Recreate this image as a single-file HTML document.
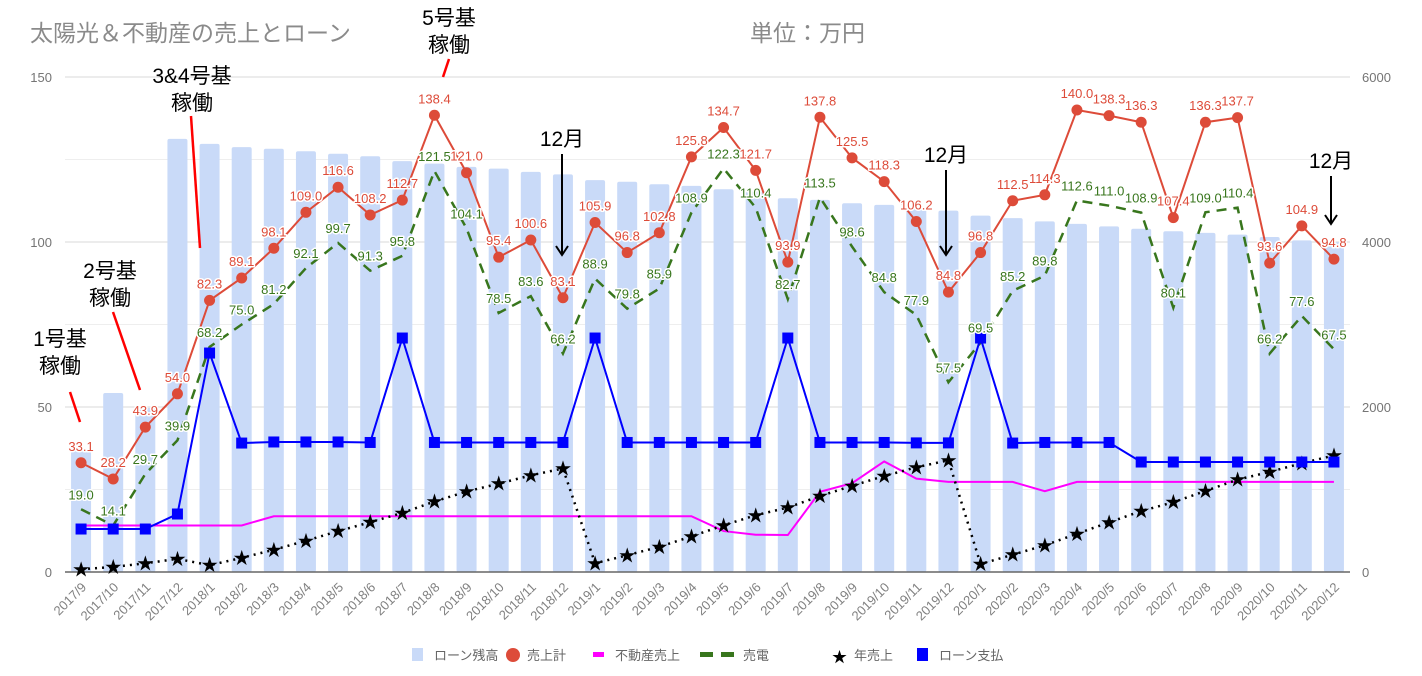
<!DOCTYPE html>
<html><head><meta charset="utf-8">
<style>
body{margin:0;background:#fff;}
svg{display:block;font-family:"Liberation Sans","Noto Sans CJK JP",sans-serif;}
.lbl{paint-order:stroke;stroke:#fff;stroke-width:3px;stroke-linejoin:round;font-size:13px;text-anchor:middle;}
</style></head><body>
<svg id="c" width="1422" height="676">
<text x="30" y="41" font-size="23" fill="#8a8a8a">太陽光＆不動産の売上とローン</text>
<text x="750" y="41" font-size="23" fill="#8a8a8a">単位：万円</text>
</svg>
<script>
const categories=["2017/9","2017/10","2017/11","2017/12","2018/1","2018/2","2018/3","2018/4","2018/5","2018/6","2018/7","2018/8","2018/9","2018/10","2018/11","2018/12","2019/1","2019/2","2019/3","2019/4","2019/5","2019/6","2019/7","2019/8","2019/9","2019/10","2019/11","2019/12","2020/1","2020/2","2020/3","2020/4","2020/5","2020/6","2020/7","2020/8","2020/9","2020/10","2020/11","2020/12"];
const loanBalance=[1490,2170,1990,5250,5190,5150,5130,5100,5070,5040,4980,4950,4910,4890,4850,4820,4750,4730,4700,4680,4640,4610,4530,4510,4470,4450,4410,4380,4320,4290,4250,4220,4190,4160,4130,4110,4090,4060,4020,4000];
const salesTotal=[33.1,28.2,43.9,54.0,82.3,89.1,98.1,109.0,116.6,108.2,112.7,138.4,121.0,95.4,100.6,83.1,105.9,96.8,102.8,125.8,134.7,121.7,93.9,137.8,125.5,118.3,106.2,84.8,96.8,112.5,114.3,140.0,138.3,136.3,107.4,136.3,137.7,93.6,104.9,94.8];
const realEstate=[14.1,14.1,14.1,14.1,14.1,14.1,16.9,16.9,16.9,16.9,16.9,16.9,16.9,16.9,16.9,16.9,16.9,16.9,16.9,16.9,12.4,11.3,11.2,24.3,26.9,33.5,28.3,27.3,27.3,27.3,24.5,27.3,27.3,27.3,27.3,27.3,27.3,27.3,27.3,27.3];
const solar=[19.0,14.1,29.7,39.9,68.2,75.0,81.2,92.1,99.7,91.3,95.8,121.5,104.1,78.5,83.6,66.2,88.9,79.8,85.9,108.9,122.3,110.4,82.7,113.5,98.6,84.8,77.9,57.5,69.5,85.2,89.8,112.6,111.0,108.9,80.1,109.0,110.4,66.2,77.6,67.5];
const annualSales=[33.1,61.3,105.2,159.2,82.3,171.4,269.5,378.5,495.1,603.3,716.0,854.4,975.4,1070.8,1171.4,1254.5,105.9,202.7,305.5,431.3,566.0,687.7,781.6,919.4,1044.9,1163.2,1269.4,1354.2,96.8,209.3,323.6,463.6,601.9,738.2,845.6,981.9,1119.6,1213.2,1318.1,1412.9];
const loanPayment=[521,521,521,703,2654,1563,1576,1576,1576,1570,2836,1570,1570,1570,1570,1570,2836,1570,1570,1570,1570,1570,2836,1570,1570,1570,1565,1565,2836,1563,1570,1570,1570,1333,1333,1333,1333,1333,1333,1333];
const leftTicks=[0,50,100,150];
const rightTicks=[0,2000,4000,6000];

const NS="http://www.w3.org/2000/svg";
const svg=document.getElementById('c');
function el(t,a,p){const e=document.createElementNS(NS,t);for(const k in a)e.setAttribute(k,a[k]);(p||svg).appendChild(e);return e;}
const X0=65,X1=1350,Y0=572,YT=77;
const step=(X1-X0)/categories.length;
const x=i=>X0+step*(i+0.5);
const yL=v=>Y0-(v/150)*(Y0-YT);
const yR=v=>Y0-(v/6000)*(Y0-YT);

for(let v=25;v<=150;v+=25){const g=el('line',{x1:X0,x2:X1,y1:yL(v),y2:yL(v),stroke:v%50==0?'#d9d9d9':'#eeeeee','stroke-width':1});
}
leftTicks.forEach(v=>{const t=el('text',{x:52,y:yL(v)+5,'text-anchor':'end','font-size':13,fill:'#757575'});t.textContent=v;
});
rightTicks.forEach(v=>{const t=el('text',{x:1362,y:yR(v)+5,'text-anchor':'start','font-size':13,fill:'#757575'});t.textContent=v;
});

loanBalance.forEach((v,i)=>{const r=el('rect',{x:x(i)-10,y:yR(v),width:20,height:Y0-yR(v),fill:'#c9daf8',rx:2});
});
const ax=el('line',{x1:X0,x2:X1,y1:Y0,y2:Y0,stroke:'#666','stroke-width':1.5});

categories.forEach((c,i)=>{const t=el('text',{x:x(i)+6,y:Y0+16,'text-anchor':'end','font-size':13,fill:'#808080',transform:`rotate(-45 ${x(i)+6} ${Y0+16})`});t.textContent=c;
});

function poly(arr,yf,attrs,name){const p=el('polyline',Object.assign({points:arr.map((v,i)=>x(i)+','+yf(v)).join(' '),fill:'none'},attrs));
return p;}
poly(realEstate,yL,{stroke:'#ff00ff','stroke-width':2},'real-estate-line');
poly(solar,yL,{stroke:'#38761d','stroke-width':2.5,'stroke-dasharray':'10,7'},'solar-line');
poly(annualSales,yR,{stroke:'#000','stroke-width':2.5,'stroke-dasharray':'2,5'},'annual-sales-line');
annualSales.forEach((v,i)=>{const t=el('text',{x:x(i),y:yR(v)+6,'text-anchor':'middle','font-size':17,fill:'#000'});t.textContent='★';
});
poly(loanPayment,yR,{stroke:'#0000ff','stroke-width':2},'loan-payment-line');
loanPayment.forEach((v,i)=>{const r=el('rect',{x:x(i)-5.5,y:yR(v)-5.5,width:11,height:11,fill:'#0000ff'});
});
poly(salesTotal,yL,{stroke:'#dd4b39','stroke-width':2},'sales-total-line');
salesTotal.forEach((v,i)=>{const c=el('circle',{cx:x(i),cy:yL(v),r:5.5,fill:'#dd4b39'});
});
solar.forEach((v,i)=>{const t=el('text',{x:x(i),y:yL(v)-10,fill:'#38761d',class:'lbl'});t.textContent=v.toFixed(1);
});
salesTotal.forEach((v,i)=>{const t=el('text',{x:x(i),y:yL(v)-12,fill:'#dd4b39',class:'lbl'});t.textContent=v.toFixed(1);
});

function ann(lines,cx,y,name){lines.forEach((s,k)=>{const t=el('text',{x:cx,y:y+k*27,'text-anchor':'middle','font-size':21,fill:'#000'});t.textContent=s;
});}
function rl(a,b,c,d){const l=el('line',{x1:a,y1:b,x2:c,y2:d,stroke:'#ff0000','stroke-width':2.5});
}
ann(['1号基','稼働'],60,346,'unit1-annotation');rl(70,392,80,422);
ann(['2号基','稼働'],110,278,'unit2-annotation');rl(113,312,140,390);
ann(['3&4号基','稼働'],192,83,'unit34-annotation');rl(191,116,200,248);
ann(['5号基','稼働'],449,25,'unit5-annotation');rl(449,59,443,77);
function arr(cx,ty,y2){ann(['12月'],cx,ty,'december-annotation');
const l=el('line',{x1:cx,y1:ty+8,x2:cx,y2:y2,stroke:'#000','stroke-width':2});
const h=el('path',{d:`M${cx-6} ${y2-9} L${cx} ${y2} L${cx+6} ${y2-9}`,fill:'none',stroke:'#000','stroke-width':2});}
arr(562,146,255);arr(946,162,255);arr(1331,168,224);

const leg=[['rect','ローン残高','#c9daf8',412],['circle','売上計','#dd4b39',505],['mag','不動産売上','#ff00ff',593],['dash','売電','#38761d',700],['star','年売上','#000',832],['sq','ローン支払','#0000ff',917]];
leg.forEach(([k,t,c,lx])=>{const g=el('g',{});
let tx=lx+22;
if(k=='rect')el('rect',{x:lx,y:648,width:11,height:13,fill:c},g);
if(k=='sq')el('rect',{x:lx,y:648,width:11,height:13,fill:c},g);
if(k=='circle')el('ellipse',{cx:lx+8,cy:655,rx:7,ry:7,fill:c},g);
if(k=='mag')el('rect',{x:lx,y:652,width:11,height:5,fill:c},g);
if(k=='dash'){el('rect',{x:lx,y:652,width:13,height:5,fill:c},g);el('rect',{x:lx+21,y:652,width:13,height:5,fill:c},g);tx=lx+43;}
if(k=='star'){const s=el('text',{x:lx,y:662,'font-size':15,fill:c},g);s.textContent='★';}
const tt=el('text',{x:tx,y:660,'font-size':13,fill:'#666'},g);tt.textContent=t;});
</script>
</body></html>
